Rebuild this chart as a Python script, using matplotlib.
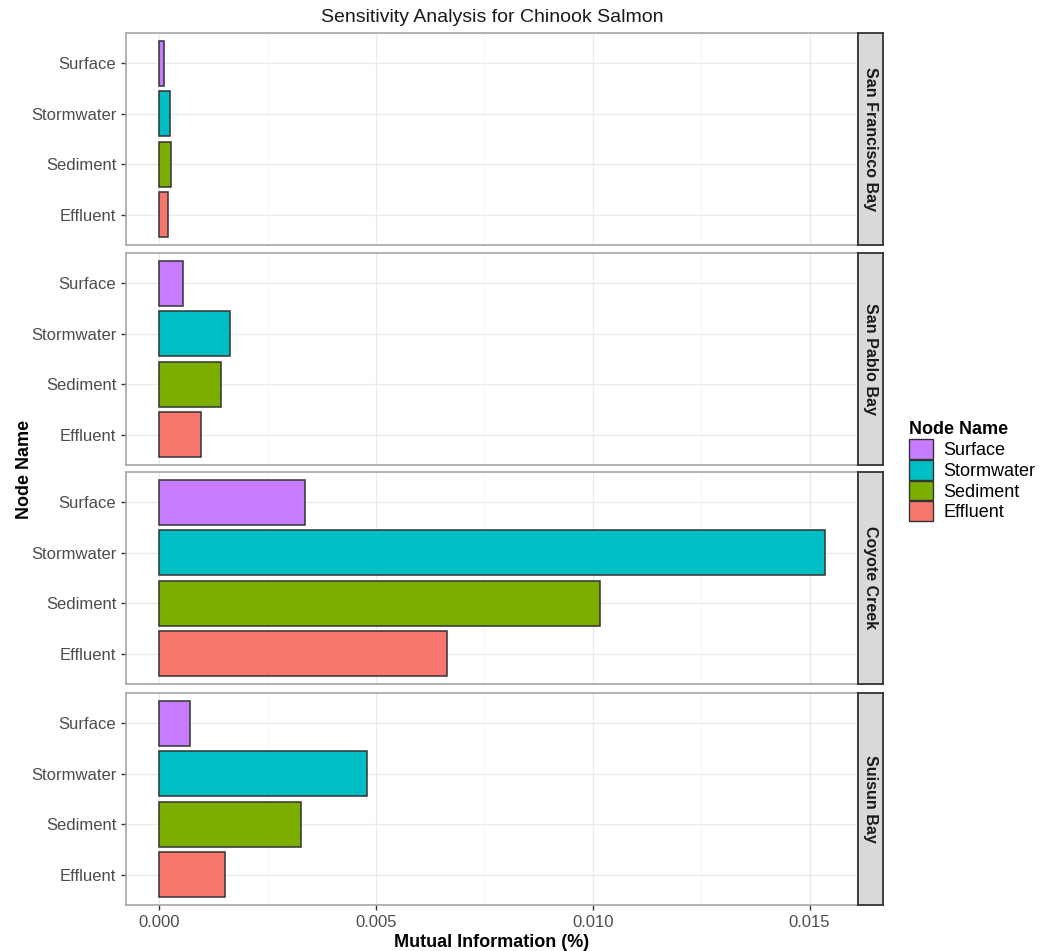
import matplotlib.pyplot as plt
from matplotlib.patches import Patch
from matplotlib.ticker import FixedLocator

plt.rcParams["font.family"] = ["Liberation Sans", "DejaVu Sans"]

nodes = ["Effluent", "Sediment", "Stormwater", "Surface"]
node_colors = ["#F8766D", "#7CAE00", "#00BFC4", "#C77CFF"]
regions = ["San Francisco Bay", "San Pablo Bay", "Coyote Creek", "Suisun Bay"]

# mutual information per node (Effluent, Sediment, Stormwater, Surface)
sf_bay = [0.00020, 0.00027, 0.00025, 0.00011]
san_pablo = [0.00096, 0.00142, 0.00163, 0.00055]
coyote = [0.00663, 0.01016, 0.01535, 0.00336]
suisun = [0.00152, 0.00326, 0.00479, 0.00071]
values = [sf_bay, san_pablo, coyote, suisun]

W, H = 1039, 951
fig = plt.figure(figsize=(W / 100, H / 100), dpi=100)

panel_left, panel_right = 126, 858
strip_right = 883
panel_tops = [33, 253, 472, 693]
panel_h = 212

xmax = max(max(v) for v in values)
xlim = (-0.05 * xmax, 1.05 * xmax)

for i, region in enumerate(regions):
    top = panel_tops[i]
    ax = fig.add_axes([panel_left / W, 1 - (top + panel_h) / H,
                       (panel_right - panel_left) / W, panel_h / H])
    ax.set_axisbelow(True)
    ypos = list(range(1, len(nodes) + 1))
    ax.barh(ypos, values[i], height=0.9, color=node_colors,
            edgecolor="#333333", linewidth=1.1)
    ax.set_xlim(*xlim)
    ax.set_ylim(0.4, 4.6)
    ax.set_yticks(ypos)
    ax.set_yticklabels(nodes)
    ax.xaxis.set_major_locator(FixedLocator([0, 0.005, 0.010, 0.015]))
    ax.xaxis.set_minor_locator(FixedLocator([0.0025, 0.0075, 0.0125]))
    ax.grid(True, which="major", color="#EBEBEB", linewidth=1.0)
    ax.grid(True, which="minor", axis="x", color="#F2F2F2", linewidth=0.6)
    ax.tick_params(axis="y", labelsize=12, labelcolor="#4D4D4D", color="#333333",
                   length=3.5, width=1.0)
    ax.tick_params(axis="x", which="major", labelsize=12, labelcolor="#4D4D4D",
                   color="#333333", length=3.5, width=1.0)
    ax.tick_params(axis="x", which="minor", length=0)
    for sp in ax.spines.values():
        sp.set_color("#A6A6A6")
        sp.set_linewidth(1.2)
    if i < len(regions) - 1:
        ax.tick_params(axis="x", which="major", labelbottom=False, length=0)
    else:
        ax.xaxis.set_major_formatter(lambda x, pos: f"{x:.3f}")
        ax.set_xlabel("Mutual Information (%)", fontsize=13, fontweight="bold",
                      labelpad=3)

    # facet strip on the right
    sax = fig.add_axes([panel_right / W, 1 - (top + panel_h) / H,
                        (strip_right - panel_right) / W, panel_h / H])
    sax.set_xticks([])
    sax.set_yticks([])
    sax.set_facecolor("#D9D9D9")
    for sp in sax.spines.values():
        sp.set_color("#333333")
        sp.set_linewidth(1.3)
    sax.text(0.5, 0.5, region, rotation=270, ha="center", va="center",
             fontsize=11.5, fontweight="bold", color="#1A1A1A",
             transform=sax.transAxes)

fig.text((panel_left + panel_right) / 2 / W, 1 - 17 / H,
         "Sensitivity Analysis for Chinook Salmon", ha="center", va="center",
         fontsize=14, color="#1A1A1A")
fig.text(25 / W, 1 - 469 / H, "Node Name", rotation=90, ha="center",
         va="center", fontsize=13, fontweight="bold")

handles = [Patch(facecolor=c, edgecolor="#333333", label=n)
           for n, c in zip(nodes[::-1], node_colors[::-1])]
leg = fig.legend(handles=handles, title="Node Name", loc="upper left",
                 bbox_to_anchor=(902 / W, 1 - 414 / H), frameon=False,
                 fontsize=13, title_fontproperties={"weight": "bold", "size": 13},
                 handlelength=1.3, handleheight=1.3, handletextpad=0.6,
                 labelspacing=0.05, borderaxespad=0)
leg._legend_box.align = "left"

fig.savefig("out.png", dpi=100)
